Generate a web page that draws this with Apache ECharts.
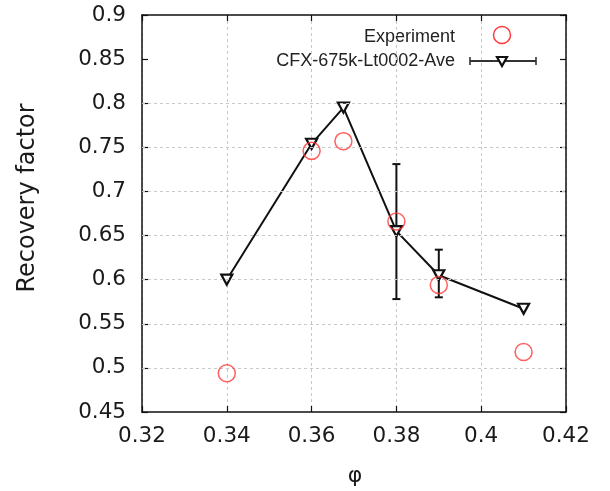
<!DOCTYPE html>
<html><head><meta charset="utf-8">
<script src="https://cdn.jsdelivr.net/npm/echarts@6/dist/echarts.min.js"></script>
<style>html,body{margin:0;padding:0;background:#fff}#c{width:610px;height:491px}</style>
</head><body><div id="c"></div>
<script>
const phi = [0.34, 0.36, 0.3675, 0.38, 0.39, 0.41];
const experiment = [0.494, 0.746, 0.757, 0.666, 0.594, 0.518];
const cfxAve = [0.600, 0.754, 0.795, 0.655, 0.605, 0.567];
const errPhi = [0.38, 0.39];
const errLow = [0.578, 0.580];
const errHigh = [0.731, 0.634];
const yGrid = [0.5, 0.55, 0.6, 0.65, 0.7, 0.75, 0.8];
const seriesNames = ['Experiment', 'CFX-675k-Lt0002-Ave'];
const xTitle = 'φ';
const yTitle = 'Recovery factor';

const FONT = 'DejaVu Sans';
const chart = echarts.init(document.getElementById('c'), null, {renderer: 'canvas'});
const L = 142, R = 566, T = 15, B = 412;
const axisLine = {show: true, lineStyle: {color: '#111', width: 1.5}};
const tick = {show: true, inside: true, length: 6, lineStyle: {color: '#111', width: 1.2}};
const xBase = {type: 'value', min: 0.32, max: 0.42, interval: 0.02};
const yBase = {type: 'value', min: 0.45, max: 0.9, interval: 0.05};

chart.setOption({
  animation: false,
  backgroundColor: '#fff',
  grid: {left: L, right: 610 - R, top: T, bottom: 491 - B, containLabel: false},
  xAxis: [
    Object.assign({}, xBase, {position: 'bottom', axisLine, axisTick: tick,
      axisLabel: {show: true, margin: 13, fontFamily: FONT, fontSize: 21.5, color: '#1a1a1a'},
      splitLine: {show: true, lineStyle: {color: '#c8c8c8', type: [3, 3], width: 1}}}),
    Object.assign({}, xBase, {position: 'top', axisLine, axisTick: tick,
      axisLabel: {show: false}, splitLine: {show: false}})
  ],
  yAxis: [
    Object.assign({}, yBase, {position: 'left', axisLine, axisTick: tick,
      axisLabel: {show: true, margin: 16, fontFamily: FONT, fontSize: 21.5, color: '#1a1a1a'},
      splitLine: {show: false}}),
    Object.assign({}, yBase, {position: 'right', axisLine, axisTick: tick,
      axisLabel: {show: false}, splitLine: {show: false}})
  ],
  graphic: [
    {type: 'text', x: 28, y: 198, rotation: Math.PI / 2,
      style: {text: yTitle, font: '24px "' + FONT + '"', fill: '#1a1a1a', textAlign: 'center', textVerticalAlign: 'middle'}},
    {type: 'text', x: 355, y: 476,
      style: {text: xTitle, font: '22px "' + FONT + '"', fill: '#1a1a1a', textAlign: 'center', textVerticalAlign: 'middle'}},
    {type: 'text', x: 455, y: 37,
      style: {text: seriesNames[0], font: '18px "Liberation Sans"', fill: '#222', textAlign: 'right', textVerticalAlign: 'middle'}},
    {type: 'circle', shape: {cx: 502, cy: 35, r: 8.5},
      style: {fill: 'none', stroke: '#ff3a3a', lineWidth: 1.5}},
    {type: 'text', x: 455, y: 61,
      style: {text: seriesNames[1], font: '18px "Liberation Sans"', fill: '#222', textAlign: 'right', textVerticalAlign: 'middle'}},
    {type: 'polyline', shape: {points: [[470, 61], [536, 61]]}, style: {stroke: '#333', lineWidth: 2.2}},
    {type: 'polyline', shape: {points: [[470, 57], [470, 65]]}, style: {stroke: '#333', lineWidth: 1.6}},
    {type: 'polyline', shape: {points: [[536, 57], [536, 65]]}, style: {stroke: '#333', lineWidth: 1.6}},
    {type: 'polygon', shape: {points: [[497, 57], [507, 57], [502, 66]]}, style: {fill: '#fff', stroke: '#111', lineWidth: 2.2}}
  ],
  series: [
    {
      type: 'line', name: 'grid', data: [], silent: true, z: 1,
      markLine: {silent: true, symbol: 'none', label: {show: false},
        lineStyle: {color: '#c8c8c8', type: [3, 3], width: 1},
        data: yGrid.map(v => ({yAxis: v}))}
    },
    {
      type: 'custom', name: 'err', z: 3,
      data: errPhi.map((x, i) => [x, errLow[i], errHigh[i]]),
      encode: {x: 0, y: [1, 2]},
      renderItem: function (params, api) {
        const x = api.value(0);
        const p1 = api.coord([x, api.value(1)]);
        const p2 = api.coord([x, api.value(2)]);
        const st = {stroke: '#111', lineWidth: 2};
        return {type: 'group', children: [
          {type: 'line', shape: {x1: p1[0], y1: p1[1], x2: p2[0], y2: p2[1]}, style: st},
          {type: 'line', shape: {x1: p1[0] - 4, y1: p1[1], x2: p1[0] + 4, y2: p1[1]}, style: st},
          {type: 'line', shape: {x1: p2[0] - 4, y1: p2[1], x2: p2[0] + 4, y2: p2[1]}, style: st}
        ]};
      }
    },
    {
      type: 'line', name: seriesNames[1], z: 4,
      data: phi.map((x, i) => [x, cfxAve[i]]),
      lineStyle: {color: '#111', width: 2},
      symbol: 'triangle', symbolRotate: 180, symbolSize: [11, 10],
      itemStyle: {color: '#fff', borderColor: '#111', borderWidth: 2.2}
    },
    {
      type: 'scatter', name: seriesNames[0], z: 5,
      data: phi.map((x, i) => [x, experiment[i]]),
      symbol: 'circle', symbolSize: 17,
      itemStyle: {color: 'rgba(0,0,0,0)', borderColor: '#ff3a3a', borderWidth: 1.5}
    }
  ]
});
</script></body></html>
